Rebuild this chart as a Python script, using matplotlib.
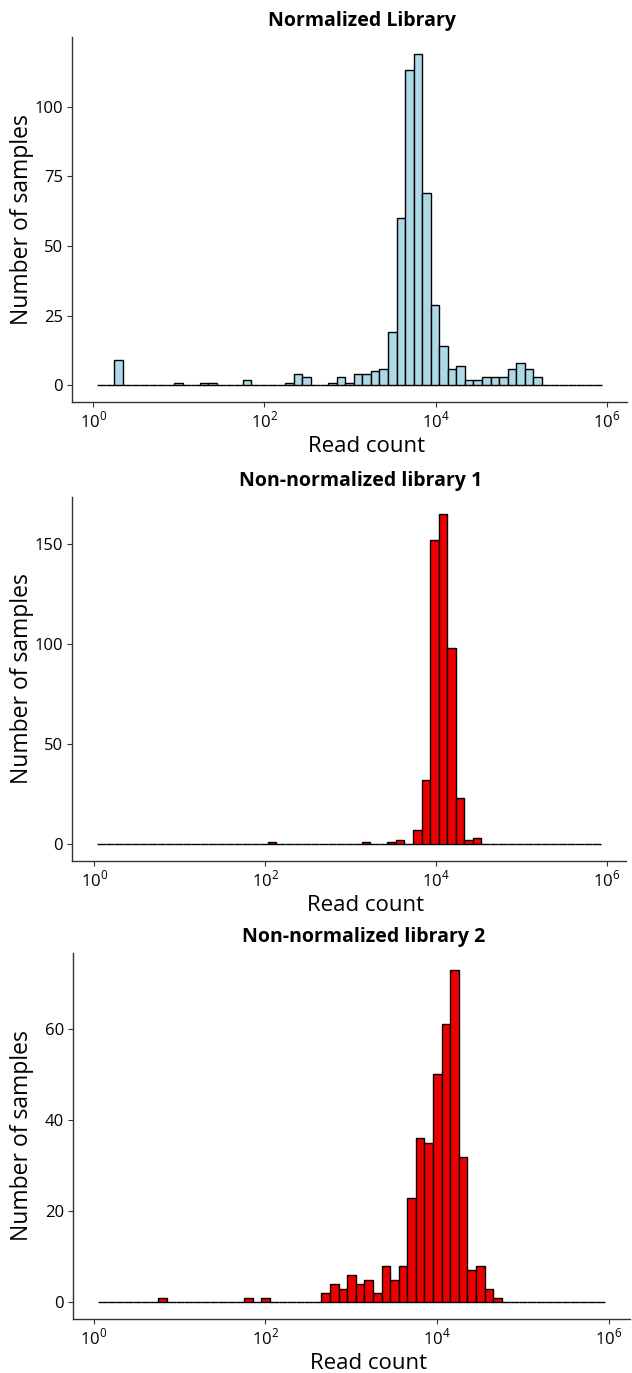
import numpy as np
import matplotlib
matplotlib.use('Agg')
import matplotlib.pyplot as plt

plt.rcParams['font.family'] = ['Open Sans', 'DejaVu Sans']
plt.rcParams['mathtext.fontset'] = 'custom'
plt.rcParams['mathtext.rm'] = 'Open Sans'

# Dados: histogramas em escala log10, 59 classes de 0.1 década
titulos = ['Normalized Library', 'Non-normalized library 1', 'Non-normalized library 2']
inicio_log = [0.044, 0.032, 0.053]   # borda esquerda da primeira classe (log10)
n_classes = 59

norm_idx = [2, 9, 12, 13, 17, 22, 23, 24, 27, 28, 29, 30, 31, 32, 33, 34, 35, 36, 37, 38,
            39, 40, 41, 42, 43, 44, 45, 46, 47, 48, 49, 50, 51]
norm_cont = [9, 1, 1, 1, 2, 1, 4, 3, 1, 3, 1, 4, 4, 5, 6, 19, 60, 113, 119, 69,
             29, 14, 6, 7, 2, 2, 3, 3, 3, 6, 8, 6, 3]

lib1_idx = [20, 31, 34, 35, 37, 38, 39, 40, 41, 42, 43, 44]
lib1_cont = [1, 1, 1, 2, 7, 32, 152, 165, 98, 23, 2, 3]

lib2_idx = [7, 17, 19, 26, 27, 28, 29, 30, 31, 32, 33, 34, 35, 36, 37, 38, 39, 40,
            41, 42, 43, 44, 45, 46]
lib2_cont = [1, 1, 1, 2, 4, 3, 6, 4, 5, 2, 8, 5, 8, 23, 36, 35, 50, 61,
             73, 32, 7, 8, 3, 1]

indices = [norm_idx, lib1_idx, lib2_idx]
contagens = [norm_cont, lib1_cont, lib2_cont]
cores = ['#ADD8E6', '#EE0000', '#EE0000']
yticks = [[0, 25, 50, 75, 100], [0, 50, 100, 150], [0, 20, 40, 60]]

W, H = 632, 1373
# posições dos painéis em pixels: (esquerda, topo, direita, base)
caixas = [(72, 37, 627, 402), (72, 497, 626, 861), (73, 953, 630, 1319)]

fig = plt.figure(figsize=(W / 100, H / 100), dpi=100)

for i in range(3):
    l, t, r, b = caixas[i]
    ax = fig.add_axes([l / W, 1 - b / H, (r - l) / W, (b - t) / H])

    bordas_log = inicio_log[i] + 0.1 * np.arange(n_classes + 1)
    bordas = 10 ** bordas_log
    pesos = np.zeros(n_classes)
    pesos[indices[i]] = contagens[i]
    centros = np.sqrt(bordas[:-1] * bordas[1:])

    ax.hist(centros, bins=bordas, weights=pesos, color=cores[i],
            edgecolor='black', linewidth=1.0)
    ax.set_xscale('log')

    span = bordas_log[-1] - bordas_log[0]
    ax.set_xlim(10 ** (bordas_log[0] - 0.05 * span), 10 ** (bordas_log[-1] + 0.05 * span))
    ymax = max(contagens[i])
    ax.set_ylim(-0.05 * ymax, ymax * 1.05)

    ax.set_xticks([1, 1e2, 1e4, 1e6])
    ax.set_xticklabels([r'$10^{0}$', r'$10^{2}$', r'$10^{4}$', r'$10^{6}$'])
    ax.xaxis.set_minor_locator(matplotlib.ticker.NullLocator())
    ax.set_yticks(yticks[i])

    ax.spines['top'].set_visible(False)
    ax.spines['right'].set_visible(False)
    for s in ['left', 'bottom']:
        ax.spines[s].set_linewidth(1.0)
        ax.spines[s].set_color('#333333')
    ax.tick_params(axis='both', length=3.5, width=0.8, color='#333333',
                   labelsize=12, labelcolor='black', pad=3)

    w = r - l
    ax.set_title(titulos[i], fontsize=14, fontweight='bold', pad=8,
                 x=(w / 2 + 12) / w)
    ax.set_xlabel('Read count', fontsize=16, labelpad=3, x=(w / 2 + 17) / w)
    ax.set_ylabel('Number of samples', fontsize=16.5)
    ax.yaxis.set_label_coords((34 - l) / w, 0.5)

fig.savefig('out.png', dpi=100)
